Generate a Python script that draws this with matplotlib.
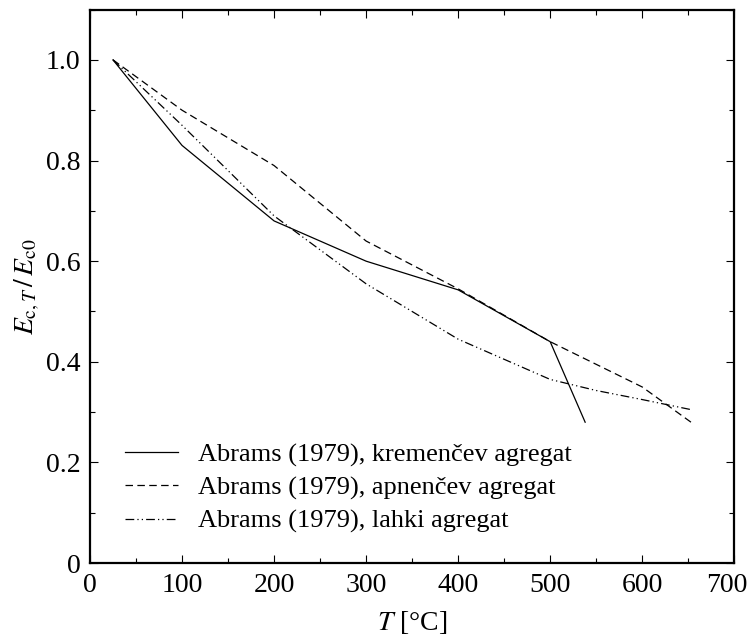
import matplotlib.pyplot as plt
from matplotlib.ticker import MultipleLocator
from matplotlib.transforms import ScaledTranslation

plt.rcParams['font.family'] = ['Liberation Serif', 'DejaVu Serif']
plt.rcParams['mathtext.fontset'] = 'stix'

# kremencev (siliceous) aggregate
T_krem = [25, 100, 200, 300, 400, 500, 538]
E_krem = [1.0, 0.83, 0.68, 0.60, 0.543, 0.44, 0.28]

# apnencev (calcareous) aggregate
T_apn = [25, 100, 200, 300, 400, 500, 600, 653]
E_apn = [1.0, 0.90, 0.79, 0.64, 0.545, 0.44, 0.35, 0.28]

# lahki (lightweight) aggregate
T_lah = [25, 100, 200, 300, 400, 500, 550, 600, 653]
E_lah = [1.0, 0.87, 0.69, 0.555, 0.445, 0.365, 0.343, 0.325, 0.305]

x_ticks = [0, 100, 200, 300, 400, 500, 600, 700]

labels = ['Abrams (1979), kremenčev agregat',
          'Abrams (1979), apnenčev agregat',
          'Abrams (1979), lahki agregat']

fig = plt.figure(figsize=(7.5, 6.37), dpi=100)
ax = fig.add_axes([0.12, 0.116, 0.859, 0.869])

ax.plot(T_krem, E_krem, color='black', lw=0.9, ls='-', label=labels[0])
ax.plot(T_apn, E_apn, color='black', lw=0.9, ls=(0, (6, 3.5)), label=labels[1])
ax.plot(T_lah, E_lah, color='black', lw=0.9, ls=(0, (7, 2.5, 1, 2.5, 1, 2.5)), label=labels[2])

ax.set_xlim(0, 700)
ax.set_ylim(0, 1.1)
ax.set_xticks(x_ticks)
ax.xaxis.set_minor_locator(MultipleLocator(50))
ax.yaxis.set_major_locator(MultipleLocator(0.2))
ax.yaxis.set_minor_locator(MultipleLocator(0.1))
ax.yaxis.set_major_formatter(plt.FuncFormatter(lambda v, p: f'{v:.1f}' if v > 0 else '0'))
ax.tick_params(which='both', direction='in', top=True, right=True, labelsize=20, pad=7)
ax.tick_params(which='major', length=6, width=0.8)
ax.tick_params(which='minor', length=3.5, width=0.8)
for s in ax.spines.values():
    s.set_linewidth(1.6)

ax.set_xlabel(r'$T$ [°C]', fontsize=20, labelpad=8)
ax.set_ylabel(r'$E_{\mathrm{c},T}\,/\,E_{\mathrm{c0}}$', fontsize=20, labelpad=2.5)

ax.legend(loc='lower left', bbox_to_anchor=(0.0175, 0.011), frameon=False, fontsize=19,
          handlelength=2.0, handletextpad=0.75, labelspacing=0.35)

# keep the last x tick label inside the figure
fig.canvas.draw()
last = ax.xaxis.get_major_ticks()[len(x_ticks) - 1].label1
last.set_transform(last.get_transform() + ScaledTranslation(-5 / 72, 0, fig.dpi_scale_trans))

fig.savefig('out.png', dpi=100)
